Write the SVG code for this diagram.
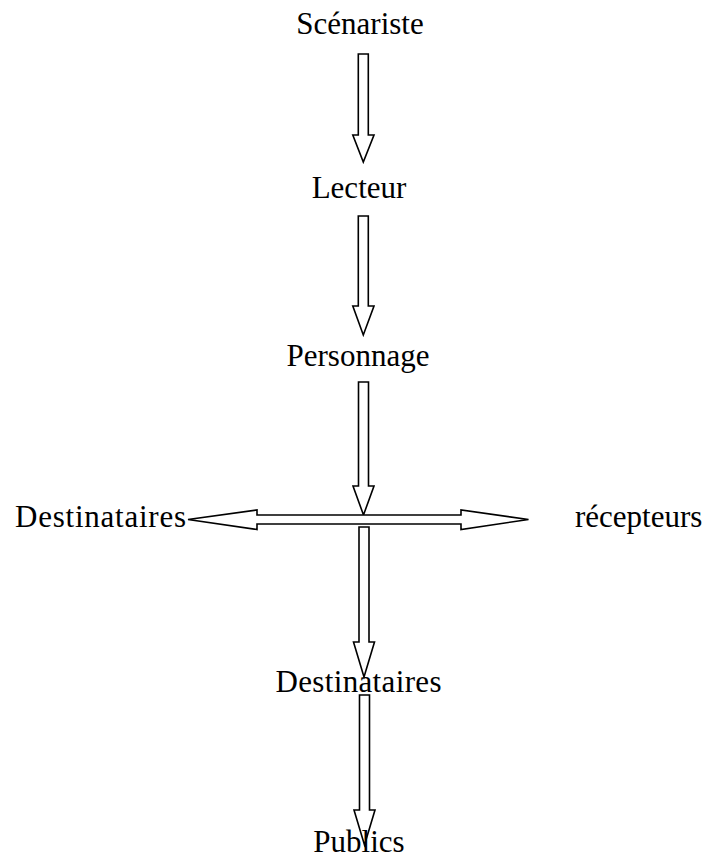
<svg xmlns="http://www.w3.org/2000/svg" width="708" height="859" viewBox="0 0 708 859">
<style>
.t{font-family:"Liberation Serif","Times New Roman",serif;font-size:31px;fill:#000}
.m{text-anchor:middle}
.a{fill:#fff;stroke:#000;stroke-width:1.6;stroke-linejoin:miter}
</style>
<rect width="708" height="859" fill="#fff"/>
<g id="connectors">
<polygon class="a" points="358.3,54 368.3,54 368.3,135 374,135 363.3,162 352.8,135 358.3,135"/>
<polygon class="a" points="358.3,216 368.3,216 368.3,306 374,306 363.3,335 352.8,306 358.3,306"/>
<polygon class="a" points="358.5,382 368.5,382 368.5,486 374,486 363.5,515 353,486 358.5,486"/>
<polygon class="a" points="188,519.5 257,510 257,515 461,515 461,510 528.5,519.5 461,529.5 461,524 257,524 257,529.5"/>
<polygon class="a" points="359,527 369,527 369,642 374.5,642 364,677 353.5,642 359,642"/>
<polygon class="a" points="359.5,695 369.5,695 369.5,810 375,810 364.5,845 354,810 359.5,810"/>
</g>
<g id="scenariste"><text class="t m" x="360" y="34">Scénariste</text></g>
<g id="lecteur"><text class="t m" x="359" y="198">Lecteur</text></g>
<g id="personnage"><text class="t m" x="358" y="366">Personnage</text></g>
<g id="destinataires-left"><text class="t" x="15" y="527" textLength="171" lengthAdjust="spacing">Destinataires</text></g>
<g id="recepteurs"><text class="t" x="575" y="527">récepteurs</text></g>
<g id="destinataires-bottom"><text class="t m" x="358.5" y="692" textLength="166" lengthAdjust="spacing">Destinataires</text></g>
<g id="publics"><text class="t m" x="359" y="852">Publics</text></g>
</svg>
